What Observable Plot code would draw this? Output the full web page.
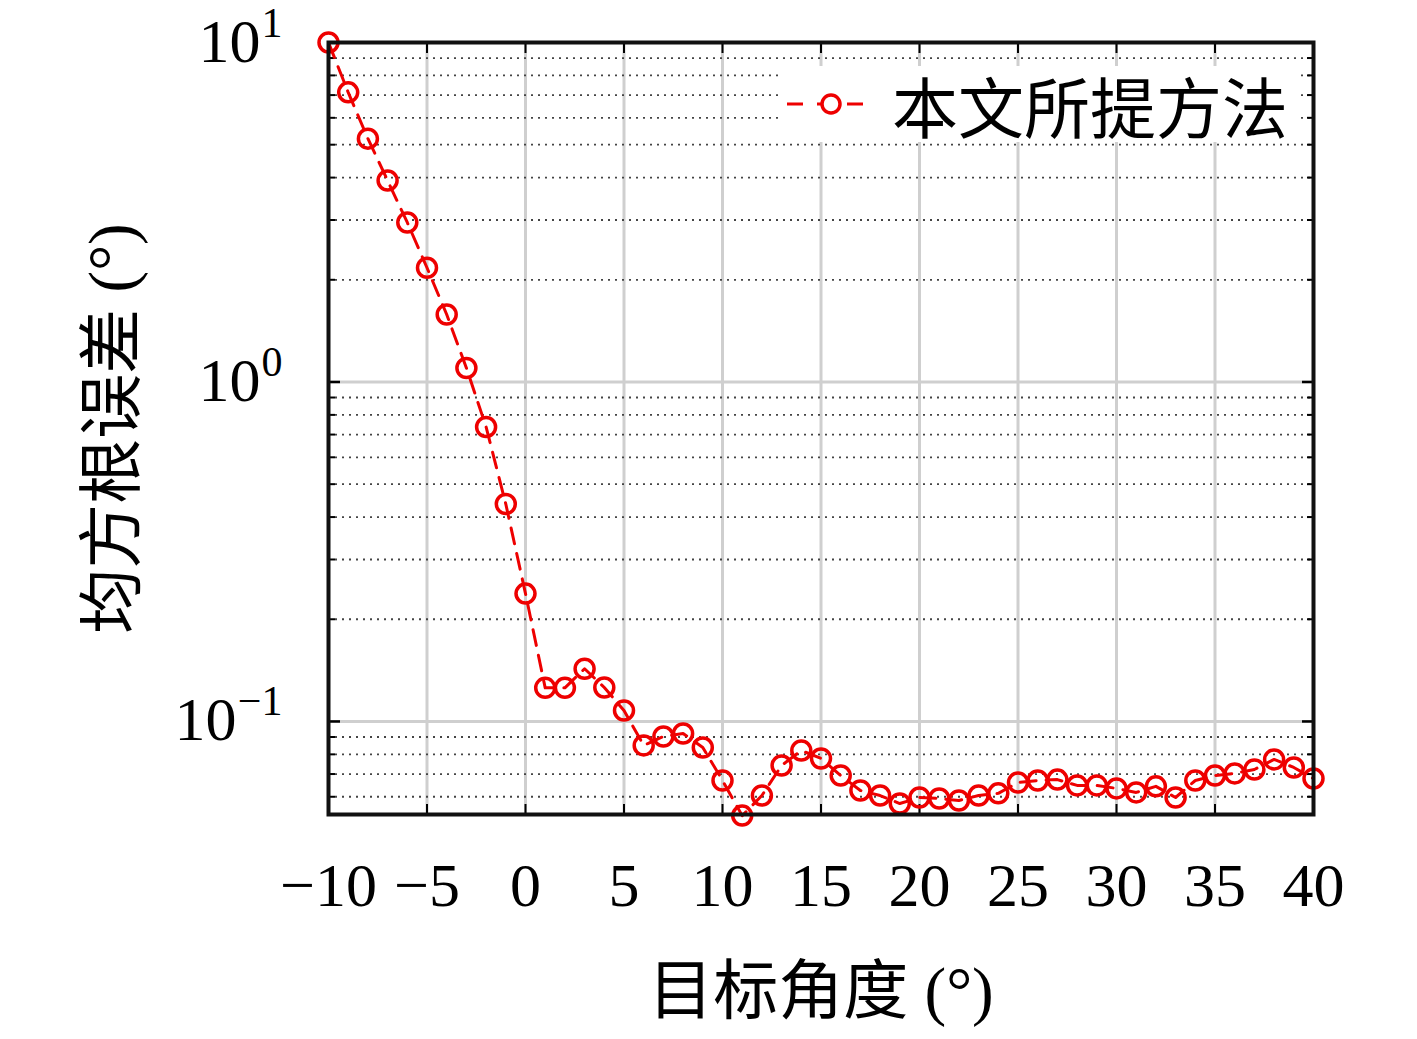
<!DOCTYPE html>
<html>
<head>
<meta charset="utf-8">
<script src="https://cdn.jsdelivr.net/npm/d3@7"></script>
<script src="https://cdn.jsdelivr.net/npm/@observablehq/plot@0.6"></script>
<style>
  html, body { margin: 0; padding: 0; background: #ffffff; }
  #wrap { position: relative; width: 1417px; height: 1039px; }
  #legend {
    position: absolute; left: 780px; top: 66px; width: 520px; height: 76px;
    background: #ffffff; display: flex; align-items: center;
    font-family: "Liberation Serif", "Noto Sans CJK SC", serif; font-size: 66px; color: #000;
  }
  #legend svg { margin-left: 4px; margin-right: 14px; }
</style>
</head>
<body>
<div id="wrap"></div>
<script>
// ---- data ----
const angles = [-10,-9,-8,-7,-6,-5,-4,-3,-2,-1,0,1,2,3,4,5,6,7,8,9,10,11,12,13,14,15,16,17,18,19,20,
  21,22,23,24,25,26,27,28,29,30,31,32,33,34,35,36,37,38,39,40];
const rmse = [10.0, 7.13, 5.21, 3.92, 2.95, 2.17, 1.58, 1.10, 0.737, 0.437, 0.238,
  0.1256, 0.1256, 0.143, 0.1259, 0.1077, 0.0850, 0.0903, 0.0922, 0.0838, 0.0670,
  0.0528, 0.0605, 0.0742, 0.0821, 0.0778, 0.0693, 0.0626, 0.0605, 0.0573, 0.0597,
  0.0593, 0.0585, 0.0605, 0.0614, 0.0661, 0.0670, 0.0674, 0.0648, 0.0648, 0.0635,
  0.0618, 0.0644, 0.0597, 0.0670, 0.0693, 0.0703, 0.0722, 0.0773, 0.0732, 0.0679];
const xTicks = [-10,-5,0,5,10,15,20,25,30,35,40];
const xTickLabels = ["\u221210","\u22125","0","5","10","15","20","25","30","35","40"];
const yMajor = [0.1, 1, 10];
const yExponents = ["\u22121", "0", "1"];
const yMinor = [0.06,0.07,0.08,0.09,0.2,0.3,0.4,0.5,0.6,0.7,0.8,0.9,2,3,4,5,6,7,8,9];
const seriesName = "本文所提方法";
const xTitle = "目标角度 (°)";
const yTitle = "均方根误差 (°)";

const data = angles.map((a, i) => ({angle: a, value: rmse[i]}));
const red = "#ee0000";
const serif = "Liberation Serif, Noto Sans CJK SC, serif";

const yPos = yMajor.map((v, i) => ({v, e: yExponents[i]}));

const chart = Plot.plot({
  width: 1417,
  height: 1039,
  marginLeft: 328,
  marginRight: 104,
  marginTop: 42,
  marginBottom: 225,
  style: {background: "transparent", fontFamily: serif, color: "#000"},
  x: {domain: [-10, 40]},
  y: {type: "log", domain: [0.0532, 10]},
  marks: [
    // grid
    Plot.gridX(xTicks.slice(1, -1), {stroke: "#cfcfcf", strokeWidth: 3, strokeOpacity: 1}),
    Plot.gridY([0.1, 1], {stroke: "#cfcfcf", strokeWidth: 3, strokeOpacity: 1}),
    Plot.gridY(yMinor, {stroke: "#444", strokeWidth: 1.8, strokeOpacity: 1, strokeDasharray: "2,5"}),
    // ticks (inward)
    Plot.axisX(xTicks, {anchor: "bottom", tickSize: -10, strokeWidth: 2, tickFormat: () => "", label: null}),
    Plot.axisX(xTicks, {anchor: "top", tickSize: -10, strokeWidth: 2, tickFormat: () => "", label: null}),
    Plot.axisY(yMajor, {anchor: "left", tickSize: -12, strokeWidth: 2.5, tickFormat: () => "", label: null}),
    Plot.axisY(yMajor, {anchor: "right", tickSize: -12, strokeWidth: 2.5, tickFormat: () => "", label: null}),
    Plot.axisY(yMinor, {anchor: "left", tickSize: -7, strokeWidth: 2, tickFormat: () => "", label: null}),
    Plot.axisY(yMinor, {anchor: "right", tickSize: -7, strokeWidth: 2, tickFormat: () => "", label: null}),
    // x tick labels
    Plot.text(xTicks, {x: d => d, text: (d, i) => xTickLabels[i], frameAnchor: "bottom", lineAnchor: "bottom",
      dy: 91, fontSize: 62, fontFamily: serif, fill: "#000"}),
    // y tick labels: base "10" and exponent
    Plot.text(yPos.filter(d => d.e.length === 1), {y: "v", text: () => "10", frameAnchor: "left", textAnchor: "end",
      lineAnchor: "bottom", dx: -68, dy: 19, fontSize: 62, fontFamily: serif, fill: "#000"}),
    Plot.text(yPos.filter(d => d.e.length > 1), {y: "v", text: () => "10", frameAnchor: "left", textAnchor: "end",
      lineAnchor: "bottom", dx: -92, dy: 19, fontSize: 62, fontFamily: serif, fill: "#000"}),
    Plot.text(yPos, {y: "v", text: "e", frameAnchor: "left", textAnchor: "end",
      lineAnchor: "bottom", dx: -46, dy: -6, fontSize: 42, fontFamily: serif, fill: "#000"}),
    // axis titles
    Plot.text([xTitle], {frameAnchor: "bottom", textAnchor: "middle", lineAnchor: "bottom", dy: 198, fontSize: 65, fontFamily: serif, fill: "#000"}),
    Plot.text([yTitle], {frameAnchor: "left", textAnchor: "middle", rotate: -90, lineAnchor: "middle", dx: -215, fontSize: 65, fontFamily: serif, fill: "#000"}),
    // series
    Plot.line(data, {x: "angle", y: "value", stroke: red, strokeWidth: 3, strokeDasharray: "16,10"}),
    Plot.dot(data, {x: "angle", y: "value", r: 9.5, stroke: red, strokeWidth: 3.5, fill: "none"}),
    // frame
    Plot.frame({stroke: "#111", strokeWidth: 4})
  ]
});

const wrap = document.getElementById("wrap");
wrap.appendChild(chart);

const legend = document.createElement("div");
legend.id = "legend";
legend.innerHTML =
  '<svg width="94" height="40" viewBox="0 0 94 40">' +
  '<line x1="2" y1="20" x2="92" y2="20" stroke="' + red + '" stroke-width="3" stroke-dasharray="16,14" stroke-dashoffset="-1"/>' +
  '<circle cx="47" cy="20" r="9" fill="white" stroke="' + red + '" stroke-width="3.5"/>' +
  '</svg><span></span>';
legend.querySelector("span").textContent = seriesName;
wrap.appendChild(legend);
</script>
</body>
</html>
